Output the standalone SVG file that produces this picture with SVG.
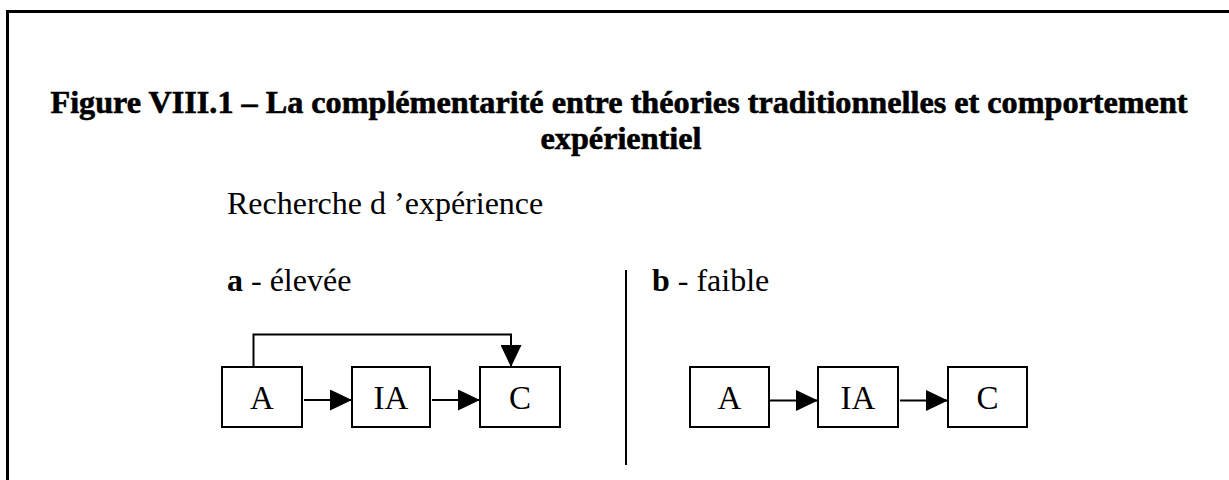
<svg xmlns="http://www.w3.org/2000/svg" width="1229" height="480" viewBox="0 0 1229 480">
<style>
.title{font-family:"Liberation Serif",serif;font-weight:bold;font-size:32.2px;fill:#000;stroke:#000;stroke-width:0.6}
.txt{font-family:"Liberation Serif",serif;font-size:32px;fill:#000}
.box{fill:#fff;stroke:#000;stroke-width:2}
.lbl{font-family:"Liberation Serif",serif;font-size:33px;fill:#000;text-anchor:middle}
.conn{fill:none;stroke:#000;stroke-width:2}
</style>
<defs>
<marker id="ah" viewBox="0 0 22 21" refX="22" refY="10.5" markerWidth="22" markerHeight="21" markerUnits="userSpaceOnUse" orient="auto">
<path d="M0,0 L22,10.5 L0,21 Z" fill="#000"/>
</marker>
</defs>
<rect x="0" y="0" width="1229" height="480" fill="#fff"/>
<path d="M7.5,490 L7.5,11.5 L1240,11.5" fill="none" stroke="#000" stroke-width="3"/>
<text class="title" x="619" y="113" text-anchor="middle">Figure VIII.1 – La complémentarité entre théories traditionnelles et comportement</text>
<text class="title" x="621" y="149" text-anchor="middle">expérientiel</text>
<text class="txt" x="227" y="214">Recherche d ’expérience</text>
<text class="txt" x="227" y="291"><tspan font-weight="bold">a</tspan> - élevée</text>
<text class="txt" x="652" y="291"><tspan font-weight="bold">b</tspan> - faible</text>
<line x1="626" y1="270" x2="626" y2="465" stroke="#000" stroke-width="2"/>
<g id="left-A"><rect class="box" x="222" y="367" width="80" height="60"/><text class="lbl" x="262" y="409">A</text></g>
<g id="left-IA"><rect class="box" x="352" y="367" width="78" height="60"/><text class="lbl" x="391" y="409">IA</text></g>
<g id="left-C"><rect class="box" x="480" y="367" width="80" height="60"/><text class="lbl" x="520" y="409">C</text></g>
<g id="right-A"><rect class="box" x="690" y="367" width="79" height="60"/><text class="lbl" x="729.5" y="409">A</text></g>
<g id="right-IA"><rect class="box" x="818" y="367" width="80" height="60"/><text class="lbl" x="858" y="409">IA</text></g>
<g id="right-C"><rect class="box" x="948" y="367" width="79" height="60"/><text class="lbl" x="987.5" y="409">C</text></g>
<g id="connectors">
<line class="conn" x1="304" y1="400" x2="352" y2="400" marker-end="url(#ah)"/>
<line class="conn" x1="432" y1="400" x2="480" y2="400" marker-end="url(#ah)"/>
<polyline class="conn" points="253.5,367 253.5,334.5 511,334.5 511,367" marker-end="url(#ah)"/>
<line class="conn" x1="770" y1="400.5" x2="818" y2="400.5" marker-end="url(#ah)"/>
<line class="conn" x1="900" y1="400.5" x2="948" y2="400.5" marker-end="url(#ah)"/>
</g>
</svg>
